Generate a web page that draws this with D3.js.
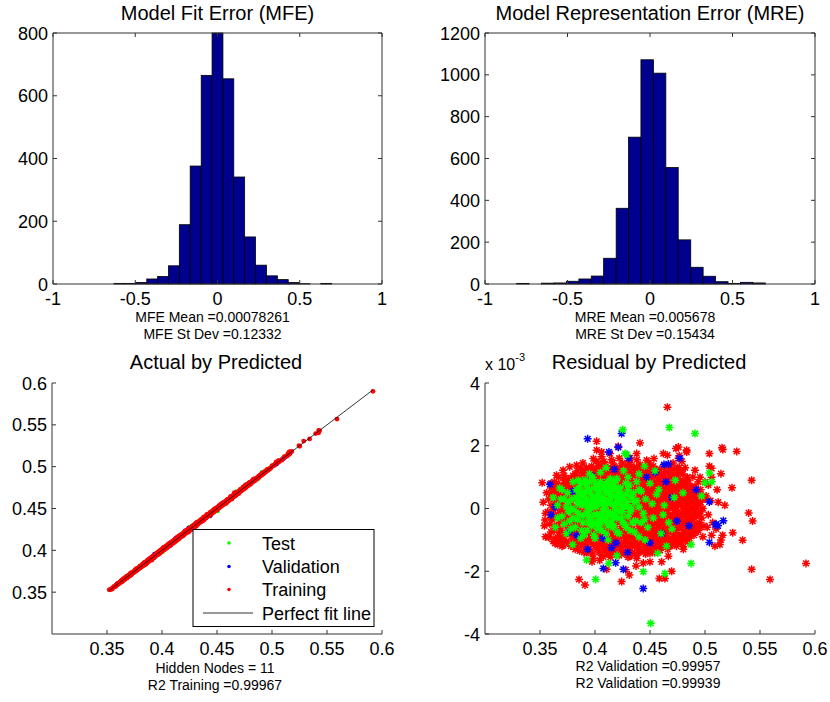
<!DOCTYPE html>
<html>
<head>
<meta charset="utf-8">
<script src="https://cdn.jsdelivr.net/npm/d3@7/dist/d3.min.js"></script>
<style>
  html, body { margin: 0; padding: 0; background: #fff; }
  svg { display: block; font-family: "Liberation Sans", Arial, Helvetica, sans-serif; }
</style>
</head>
<body>
<svg id="chart" width="830" height="702"></svg>
<script>
// ---- Histogram of model fit error (20 bins) ----
const mfeEdges = [-0.629, -0.563, -0.497, -0.430, -0.364, -0.298, -0.232, -0.166, -0.099, -0.033,
  0.033, 0.099, 0.165, 0.231, 0.298, 0.364, 0.430, 0.496, 0.562, 0.628, 0.694];
const mfeCounts = [2, 2, 5, 16, 24, 58, 189, 376, 665, 800, 654, 341, 150, 60, 26, 14, 5, 1, 0, 2];

// ---- Histogram of model representation error (20 bins) ----
const mreEdges = [-0.808, -0.733, -0.657, -0.582, -0.507, -0.431, -0.356, -0.281, -0.205, -0.130,
  -0.055, 0.021, 0.096, 0.171, 0.247, 0.322, 0.397, 0.473, 0.548, 0.623, 0.699];
const mreCounts = [3, 0, 4, 5, 13, 24, 38, 123, 362, 702, 1072, 1008, 557, 211, 80, 37, 11, 3, 8, 5];

const histXTicks = [-1, -0.5, 0, 0.5, 1];
const mfeYTicks = [0, 200, 400, 600, 800];
const mreYTicks = [0, 200, 400, 600, 800, 1000, 1200];
const predTicks = [0.35, 0.4, 0.45, 0.5, 0.55, 0.6];
const residTicks = [-4, -2, 0, 2, 4];

// ---- Training samples: [predicted, residual x 10^-3] ----
const trainPts = [
[0.352,0.82],[0.354,-0.55],[0.355,-0.15],[0.353,0.2],[0.356,0.5],[0.355,-0.9],
[0.358,-0.92],[0.359,-0.5],[0.357,-0.1],[0.358,0.3],[0.36,0.65],
[0.362,-1.05],[0.363,-0.7],[0.361,-0.35],[0.362,-0.05],[0.364,0.25],[0.362,0.55],[0.363,0.85],
[0.366,-1.15],[0.367,-0.85],[0.365,-0.55],[0.366,-0.3],[0.368,0.0],[0.366,0.3],[0.367,0.55],[0.365,0.8],[0.367,1.0],
[0.37,-1.2],[0.371,-0.95],[0.369,-0.7],[0.37,-0.4],[0.372,-0.15],[0.37,0.1],[0.371,0.4],[0.369,0.65],[0.372,0.9],
[0.374,-1.05],[0.375,-0.8],[0.373,-0.5],[0.374,-0.25],[0.376,0.05],[0.374,0.25],[0.375,0.5],[0.373,0.75],[0.376,0.95],
[0.378,-1.2],[0.379,-0.9],[0.377,-0.6],[0.378,-0.35],[0.38,-0.1],[0.378,0.15],[0.379,0.45],[0.377,0.7],[0.38,0.9],
[0.382,-1.3],[0.383,-1.0],[0.381,-0.7],[0.382,-0.45],[0.384,-0.2],[0.382,0.05],[0.383,0.3],[0.381,0.6],[0.384,0.85],[0.382,1.1],
[0.386,-1.35],[0.387,-1.05],[0.385,-0.8],[0.386,-0.5],[0.388,-0.3],[0.386,-0.05],[0.387,0.2],[0.385,0.45],[0.388,0.75],[0.386,1.0],[0.387,1.3],
[0.39,-1.4],[0.391,-1.15],[0.389,-0.85],[0.39,-0.6],[0.392,-0.35],[0.39,-0.1],[0.391,0.15],[0.389,0.4],[0.392,0.65],[0.39,0.9],[0.391,1.15],[0.389,1.45],
[0.394,-1.3],[0.395,-1.0],[0.393,-0.75],[0.394,-0.5],[0.396,-0.25],[0.394,0.0],[0.395,0.25],[0.393,0.5],[0.396,0.75],[0.394,1.0],[0.395,1.25],
[0.398,-1.45],[0.399,-1.15],[0.397,-0.9],[0.398,-0.65],[0.4,-0.4],[0.398,-0.15],[0.399,0.1],[0.397,0.35],[0.4,0.6],[0.398,0.85],[0.399,1.1],[0.397,1.35],
[0.402,-1.3],[0.403,-1.05],[0.401,-0.8],[0.402,-0.55],[0.404,-0.3],[0.402,-0.05],[0.403,0.2],[0.401,0.45],[0.404,0.7],[0.402,0.95],[0.403,1.2],[0.401,1.5],
[0.406,-1.5],[0.407,-1.2],[0.405,-0.95],[0.406,-0.7],[0.408,-0.45],[0.406,-0.2],[0.407,0.05],[0.405,0.3],[0.408,0.55],[0.406,0.8],[0.407,1.05],[0.405,1.3],[0.406,1.65],
[0.41,-1.35],[0.411,-1.1],[0.409,-0.85],[0.41,-0.6],[0.412,-0.35],[0.41,-0.1],[0.411,0.15],[0.409,0.4],[0.412,0.65],[0.41,0.9],[0.411,1.15],[0.409,1.4],
[0.414,-1.55],[0.415,-1.25],[0.413,-1.0],[0.414,-0.75],[0.416,-0.5],[0.414,-0.25],[0.415,0.0],[0.413,0.25],[0.416,0.5],[0.414,0.75],[0.415,1.0],[0.413,1.25],[0.415,1.55],
[0.418,-1.4],[0.419,-1.15],[0.417,-0.9],[0.418,-0.65],[0.42,-0.4],[0.418,-0.15],[0.419,0.1],[0.417,0.35],[0.42,0.6],[0.418,0.85],[0.419,1.1],[0.417,1.35],
[0.422,-1.5],[0.423,-1.25],[0.421,-1.0],[0.422,-0.75],[0.424,-0.5],[0.422,-0.25],[0.423,0.0],[0.421,0.25],[0.424,0.5],[0.422,0.75],[0.423,1.0],[0.421,1.25],[0.422,1.6],
[0.426,-1.35],[0.427,-1.1],[0.425,-0.85],[0.426,-0.6],[0.428,-0.35],[0.426,-0.1],[0.427,0.15],[0.425,0.4],[0.428,0.65],[0.426,0.9],[0.427,1.15],[0.425,1.45],
[0.43,-1.55],[0.431,-1.25],[0.429,-1.0],[0.43,-0.75],[0.432,-0.5],[0.43,-0.25],[0.431,0.0],[0.429,0.25],[0.432,0.5],[0.43,0.75],[0.431,1.0],[0.429,1.25],[0.431,1.5],
[0.434,-1.4],[0.435,-1.15],[0.433,-0.9],[0.434,-0.65],[0.436,-0.4],[0.434,-0.15],[0.435,0.1],[0.433,0.35],[0.436,0.6],[0.434,0.85],[0.435,1.1],[0.433,1.35],
[0.438,-1.5],[0.439,-1.25],[0.437,-1.0],[0.438,-0.75],[0.44,-0.5],[0.438,-0.25],[0.439,0.0],[0.437,0.25],[0.44,0.5],[0.438,0.75],[0.439,1.0],[0.437,1.25],[0.438,1.55],
[0.442,-1.35],[0.443,-1.1],[0.441,-0.85],[0.442,-0.6],[0.444,-0.35],[0.442,-0.1],[0.443,0.15],[0.441,0.4],[0.444,0.65],[0.442,0.9],[0.443,1.15],[0.441,1.4],
[0.446,-1.45],[0.447,-1.2],[0.445,-0.95],[0.446,-0.7],[0.448,-0.45],[0.446,-0.2],[0.447,0.05],[0.445,0.3],[0.448,0.55],[0.446,0.8],[0.447,1.05],[0.445,1.3],
[0.45,-1.3],[0.451,-1.05],[0.449,-0.8],[0.45,-0.55],[0.452,-0.3],[0.45,-0.05],[0.451,0.2],[0.449,0.45],[0.452,0.7],[0.45,0.95],[0.451,1.2],[0.449,1.45],
[0.454,-1.4],[0.455,-1.15],[0.453,-0.9],[0.454,-0.65],[0.456,-0.4],[0.454,-0.15],[0.455,0.1],[0.453,0.35],[0.456,0.6],[0.454,0.85],[0.455,1.1],[0.453,1.35],
[0.458,-1.3],[0.459,-1.05],[0.457,-0.8],[0.458,-0.55],[0.46,-0.3],[0.458,-0.05],[0.459,0.2],[0.457,0.45],[0.46,0.7],[0.458,0.95],[0.459,1.25],
[0.462,-1.2],[0.463,-0.95],[0.461,-0.7],[0.462,-0.45],[0.464,-0.2],[0.462,0.05],[0.463,0.3],[0.461,0.55],[0.464,0.8],[0.462,1.05],[0.463,1.35],
[0.466,-1.3],[0.467,-1.05],[0.465,-0.8],[0.466,-0.55],[0.468,-0.3],[0.466,-0.05],[0.467,0.2],[0.465,0.45],[0.468,0.7],[0.466,0.95],[0.467,1.2],
[0.47,-1.15],[0.471,-0.9],[0.469,-0.65],[0.47,-0.4],[0.472,-0.15],[0.47,0.1],[0.471,0.35],[0.469,0.6],[0.472,0.85],[0.47,1.1],[0.471,1.45],
[0.474,-1.2],[0.475,-0.95],[0.473,-0.7],[0.474,-0.45],[0.476,-0.2],[0.474,0.05],[0.475,0.3],[0.473,0.55],[0.476,0.8],[0.474,1.05],[0.475,1.3],[0.476,1.6],
[0.478,-1.1],[0.479,-0.85],[0.477,-0.6],[0.478,-0.35],[0.48,-0.1],[0.478,0.15],[0.479,0.4],[0.477,0.65],[0.48,0.9],[0.478,1.2],[0.479,1.5],
[0.482,-1.0],[0.483,-0.75],[0.481,-0.5],[0.482,-0.25],[0.484,0.0],[0.482,0.25],[0.483,0.5],[0.481,0.75],[0.484,1.0],[0.482,1.3],
[0.486,-0.95],[0.487,-0.7],[0.485,-0.45],[0.486,-0.2],[0.488,0.05],[0.486,0.3],[0.487,0.55],[0.485,0.8],
[0.49,-0.85],[0.491,-0.6],[0.489,-0.35],[0.49,-0.1],[0.492,0.15],[0.49,0.4],[0.491,0.7],[0.489,1.0],
[0.494,-0.7],[0.495,-0.45],[0.493,-0.2],[0.494,0.1],[0.496,0.45],[0.494,0.85],
[0.498,-0.9],[0.499,-0.55],[0.497,-0.3],[0.498,0.0],[0.5,0.3],
[0.502,-0.6],[0.503,-0.2],[0.501,0.4],[0.503,0.75],
[0.506,-0.85],[0.507,-0.45],[0.505,0.25],[0.506,1.0],[0.506,1.28],
[0.51,-0.65],[0.511,0.6],
[0.4658,3.23],[0.4015,2.14],[0.4212,1.98],[0.4409,2.09],[0.5155,1.94],[0.5162,1.88],[0.5288,1.82],[0.504,1.75],[0.4758,1.96],[0.4833,1.86],[0.4767,1.68],[0.406,1.8],
[0.5424,0.9],[0.5145,1.11],[0.5,0.85],[0.504,1.35],[0.5245,0.66],[0.512,0.2],[0.518,0.1],[0.5397,-0.14],[0.5433,-0.4],[0.5342,-1.01],[0.5252,-0.77],[0.5424,-1.94],[0.5591,-2.26],[0.5918,-1.75],[0.5135,-1.15],[0.516,-0.85],[0.5145,-1.0],[0.509,-1.2],
[0.4636,-2.23],[0.4585,-2.23],[0.45,-1.7],[0.4439,-1.74],[0.4242,-2.33],[0.4106,-1.94],[0.4136,-1.4],[0.3855,-2.26],[0.3909,-2.44],[0.3973,-1.7],[0.4043,-1.65],[0.4185,-1.1],[0.4312,-2.12],[0.4312,-1.53],[0.4606,-1.7],[0.4803,-1.3],[0.4845,-1.06],[0.3806,-1.16],[0.3683,-1.02],[0.4021,-1.0],[0.4279,-1.95],[0.4373,-1.83],[0.4667,-1.52],[0.4697,-2.0],
[0.390,1.2],[0.3985,1.59],[0.403,1.45],[0.4136,1.75],[0.4318,1.61],[0.4379,1.75],[0.447,1.54],[0.4536,1.59],[0.4621,1.75],[0.4658,1.7],[0.4736,1.91],[0.4833,1.8],[0.4767,1.3],[0.4909,1.22],[0.4955,1.0],[0.4015,1.86],
[0.365,1.06],[0.371,1.22],[0.377,1.33],[0.3833,1.38],
[0.3636,-1.11],[0.3712,-1.17],[0.3833,-1.22],[0.3924,-1.43],[0.3985,-1.59],[0.4076,-1.54],[0.4152,-1.4],[0.4318,-1.48],[0.4379,-1.59],[0.45,-1.43],[0.4591,-1.33],[0.4682,-1.17],[0.4758,-1.06],[0.4803,-1.22],[0.3576,-0.9],[0.3545,-0.37]
];

// More training samples in the dense core, listed by predicted value:
// [predicted, [residuals x 10^-3 ...]]
const trainCore = [
[0.360, [-0.75,-0.3,0.1,0.45,0.8]],
[0.364, [-0.95,-0.6,-0.2,0.15,0.45,0.7]],
[0.368, [-1.0,-0.7,-0.45,-0.15,0.2,0.45,0.75]],
[0.372, [-1.05,-0.8,-0.5,-0.3,0.0,0.25,0.55,0.75,1.05]],
[0.376, [-1.1,-0.65,-0.4,-0.1,0.35,0.6,0.85]],
[0.380, [-1.05,-0.75,-0.45,-0.25,0.05,0.3,0.55,0.8,1.05]],
[0.384, [-1.15,-0.85,-0.6,-0.35,-0.1,0.15,0.45,0.7,0.95,1.2]],
[0.388, [-1.2,-0.95,-0.65,-0.4,-0.15,0.1,0.35,0.6,0.85,1.15]],
[0.392, [-1.25,-1.0,-0.75,-0.5,-0.2,0.05,0.3,0.55,0.8,1.05,1.3]],
[0.396, [-1.35,-1.1,-0.85,-0.6,-0.35,-0.1,0.15,0.4,0.65,0.95,1.2]],
[0.400, [-1.2,-0.95,-0.7,-0.5,-0.2,0.1,0.3,0.5,0.75,1.0,1.25]],
[0.404, [-1.4,-1.15,-0.9,-0.65,-0.4,-0.15,0.1,0.35,0.6,0.85,1.1,1.35]],
[0.408, [-1.3,-1.05,-0.8,-0.55,-0.3,-0.05,0.2,0.45,0.7,0.95,1.2,1.5]],
[0.412, [-1.45,-1.2,-0.95,-0.7,-0.45,-0.2,0.05,0.3,0.55,0.8,1.05,1.3]],
[0.416, [-1.3,-1.05,-0.8,-0.55,-0.3,-0.05,0.2,0.45,0.7,0.95,1.2,1.45]],
[0.420, [-1.45,-1.2,-0.95,-0.7,-0.45,-0.2,0.05,0.3,0.55,0.8,1.05,1.3]],
[0.424, [-1.4,-1.15,-0.9,-0.65,-0.4,-0.15,0.1,0.35,0.6,0.85,1.1,1.35]],
[0.428, [-1.45,-1.2,-0.95,-0.7,-0.45,-0.2,0.05,0.3,0.55,0.8,1.05,1.35]],
[0.432, [-1.35,-1.1,-0.85,-0.6,-0.35,-0.1,0.15,0.4,0.65,0.9,1.15,1.4]],
[0.436, [-1.45,-1.2,-0.95,-0.7,-0.45,-0.2,0.05,0.3,0.55,0.8,1.05,1.3]],
[0.440, [-1.4,-1.15,-0.9,-0.65,-0.4,-0.15,0.1,0.35,0.6,0.85,1.1,1.35]],
[0.444, [-1.3,-1.05,-0.8,-0.55,-0.3,-0.05,0.2,0.45,0.7,0.95,1.25]],
[0.448, [-1.35,-1.1,-0.85,-0.6,-0.35,-0.1,0.15,0.4,0.65,0.9,1.15,1.4]],
[0.452, [-1.2,-0.95,-0.7,-0.45,-0.2,0.05,0.3,0.55,0.8,1.05,1.3]],
[0.456, [-1.25,-1.0,-0.75,-0.5,-0.25,0.0,0.25,0.5,0.75,1.0,1.2]],
[0.460, [-1.15,-0.9,-0.65,-0.4,-0.15,0.1,0.35,0.6,0.85,1.1]],
[0.464, [-1.1,-0.85,-0.6,-0.35,-0.1,0.15,0.4,0.65,0.9,1.15]],
[0.468, [-1.2,-0.95,-0.7,-0.45,-0.2,0.05,0.3,0.55,0.8,1.05,1.3]],
[0.472, [-1.05,-0.8,-0.55,-0.3,-0.05,0.2,0.45,0.7,0.95,1.25]],
[0.476, [-1.1,-0.85,-0.6,-0.35,-0.1,0.15,0.4,0.65,0.95,1.15]],
[0.480, [-0.95,-0.7,-0.45,-0.2,0.05,0.3,0.55,0.8,1.1]],
[0.484, [-0.9,-0.6,-0.35,-0.1,0.15,0.4,0.65,0.9]],
[0.488, [-0.8,-0.55,-0.3,-0.05,0.2,0.45,0.7]],
[0.492, [-0.75,-0.5,-0.25,0.0,0.3,0.55]],
[0.496, [-0.6,-0.1,0.2,0.6]]
];

// ---- Test samples ----
const testPts = [
[0.362,0.35],[0.364,-0.6],[0.366,0.1],[0.368,0.65],[0.37,-0.25],[0.372,0.3],[0.374,-0.8],[0.375,0.5],[0.377,-0.4],[0.378,0.0],[0.38,0.85],[0.382,-0.6],[0.383,0.35],[0.385,-0.15],[0.386,0.65],[0.387,-0.95],[0.388,0.1],[0.389,-0.45],[0.39,0.45],[0.391,0.9],[0.392,-0.15],[0.393,-0.7],[0.394,0.25],[0.395,0.6],[0.396,-0.35],[0.397,0.05],[0.398,1.0],[0.399,-0.85],[0.4,0.4],[0.401,-0.5],[0.402,0.15],[0.403,0.75],[0.404,-0.2],[0.405,1.15],[0.406,-0.7],[0.407,0.3],[0.408,0.0],[0.409,0.55],[0.41,-0.4],[0.411,0.85],[0.412,-1.0],[0.413,0.2],[0.414,-0.15],[0.415,0.6],[0.416,0.4],[0.417,-0.55],[0.418,0.05],[0.419,0.9],[0.42,-0.3],[0.421,0.35],[0.422,-0.8],[0.423,0.65],[0.424,0.1],[0.425,-0.1],[0.426,1.2],[0.427,-0.5],[0.428,0.45],[0.429,0.2],[0.43,-0.25],[0.431,0.75],[0.432,-0.7],[0.433,0.0],[0.435,0.5],[0.437,-0.4],[0.438,0.25],[0.44,-0.9],[0.442,0.55],[0.444,-0.15],[0.446,0.3],[0.448,-0.6],[0.45,0.8],[0.453,-0.3],[0.456,0.45],[0.46,-0.8],[0.463,0.1],[0.467,-0.45],[0.472,0.35],
[0.392,0.3],[0.396,0.45],[0.4,0.2],[0.404,0.55],[0.408,0.35],[0.412,0.5],[0.416,0.15],[0.42,0.6],[0.395,-0.05],[0.399,-0.2],[0.403,-0.35],[0.407,-0.1],[0.411,-0.25],[0.415,-0.4],[0.419,-0.05],[0.423,0.3],[0.402,0.65],[0.41,0.75],[0.418,0.4],[0.388,0.4],[0.384,0.15],[0.38,-0.3],[0.376,0.2],
[0.386,0.25],[0.387,0.8],[0.389,-0.25],[0.391,0.55],[0.393,0.05],[0.394,-0.45],[0.395,0.85],[0.397,-0.55],[0.398,0.3],[0.399,0.65],[0.401,0.05],[0.402,-0.2],[0.403,0.45],[0.405,-0.5],[0.405,0.85],[0.406,0.15],[0.408,-0.3],[0.409,0.25],[0.41,0.6],[0.412,-0.1],[0.413,0.7],[0.414,0.35],[0.416,-0.6],[0.417,0.8],[0.418,-0.25],[0.42,0.2],[0.421,0.65],[0.422,-0.1],[0.424,0.45],[0.425,-0.45],[0.426,0.3],[0.428,0.8],[0.43,0.05],[0.432,0.4],[0.434,-0.45],[0.436,0.2],[0.379,0.3],[0.381,-0.05],[0.383,0.6],[0.378,-0.65],[0.372,-0.5],[0.369,0.3],[0.374,0.05],
[0.384,-0.35],[0.386,0.5],[0.388,-0.7],[0.39,0.2],[0.392,0.75],[0.394,-0.25],[0.396,0.15],[0.398,-0.45],[0.4,0.85],[0.402,-0.65],[0.404,0.3],[0.406,-0.35],[0.408,0.7],[0.41,0.1],[0.412,-0.55],[0.414,0.95],[0.416,-0.2],[0.418,0.65],[0.42,-0.75],[0.422,0.45],[0.424,-0.3],[0.426,0.05],[0.428,-0.6],[0.43,0.6],[0.432,-0.1],[0.434,0.3],[0.436,-0.75],[0.438,0.85],[0.44,0.05],[0.442,-0.45],[0.39,-0.85],[0.4,-0.95],[0.41,-0.8],[0.42,0.95],[0.43,1.0],[0.395,1.1],[0.385,0.9],[0.37,0.6],[0.366,-0.3],[0.376,-0.1],[0.44,0.6],[0.445,-0.35],[0.452,0.15],[0.458,0.6],[0.462,-0.2],[0.47,-0.65],
[0.4676,2.58],[0.4909,2.39],[0.4252,2.51],[0.4288,1.72],[0.4273,1.75],[0.504,1.13],[0.5062,0.85],[0.5,0.82],[0.4873,-1.15],[0.4873,-1.75],[0.4636,-2.07],[0.4506,-3.66],[0.4439,-2.01],[0.4006,-2.26],[0.3924,-1.64],[0.4124,-1.75],[0.457,-1.43],[0.3797,-1.15],[0.42,-1.5],[0.4455,-1.0],[0.465,-1.2],[0.497,0.4],[0.4545,1.2],[0.473,0.9],[0.445,1.35],[0.44,1.1],[0.41,1.3],[0.48,0.5]
];

// ---- Validation samples ----
const valPts = [
[0.4242,2.39],[0.3933,2.22],[0.4212,1.95],[0.4307,1.6],[0.4127,1.8],[0.4627,1.4],[0.4667,1.42],[0.4548,1.15],[0.447,1.0],[0.3591,0.77],[0.3638,0.05],[0.5167,-0.39],[0.5103,-0.5],[0.5118,-0.55],[0.5094,-0.52],[0.504,-1.08],[0.5039,0.21],[0.4439,-2.55],[0.4258,-1.94],[0.4076,-1.91],[0.4188,-1.73],[0.4191,-1.1],[0.3933,-1.3],[0.3833,-0.86],[0.3764,-0.75],[0.4297,-1.4],[0.4606,-0.8],[0.4745,-0.4],[0.477,1.6],[0.4645,0.85],[0.47,0.35],[0.4073,-0.95],[0.45,-1.1],[0.415,-1.25],[0.36,-0.2],[0.38,0.55],[0.4855,-0.55],[0.397,1.05],[0.4176,1.25],[0.492,0.6]
];

const seriesColors = { test: "#00ff00", val: "#0000ff", train: "#ff0000" };
const legendItems = ["Test", "Validation", "Training", "Perfect fit line"];

// all training samples as [predicted, residual] pairs
const trainAll = trainPts.concat(trainCore.flatMap(([p, rs]) => rs.map(r => [p, r])));

// ---------------------------------------------------------------
const svg = d3.select("#chart");
const axisColor = "#333";
const tickLen = 4;
const tickFont = 18;

function drawAxes(g, x, y, xTicks, yTicks, fmtX, fmtY, boxed) {
  const [x0, x1] = x.range();
  const [y0, y1] = y.range(); // y0 bottom, y1 top
  xTicks.forEach(t => {
    const px = x(t);
    g.append("line").attr("x1", px).attr("x2", px).attr("y1", y0).attr("y2", y0 - tickLen)
      .attr("stroke", axisColor);
    if (boxed) g.append("line").attr("x1", px).attr("x2", px).attr("y1", y1).attr("y2", y1 + tickLen)
      .attr("stroke", axisColor);
    g.append("text").attr("x", px).attr("y", y0 + 21).attr("text-anchor", "middle")
      .attr("font-size", tickFont).text(fmtX(t));
  });
  yTicks.forEach(t => {
    const py = y(t);
    g.append("line").attr("x1", x0).attr("x2", x0 + tickLen).attr("y1", py).attr("y2", py)
      .attr("stroke", axisColor);
    if (boxed) g.append("line").attr("x1", x1).attr("x2", x1 - tickLen).attr("y1", py).attr("y2", py)
      .attr("stroke", axisColor);
    g.append("text").attr("x", x0 - 5).attr("y", py + 6.5).attr("text-anchor", "end")
      .attr("font-size", tickFont).text(fmtY(t));
  });
  g.append("line").attr("x1", x0).attr("x2", x1).attr("y1", y0).attr("y2", y0).attr("stroke", axisColor);
  g.append("line").attr("x1", x0).attr("x2", x0).attr("y1", y0).attr("y2", y1).attr("stroke", axisColor);
  if (boxed) {
    g.append("line").attr("x1", x0).attr("x2", x1).attr("y1", y1).attr("y2", y1).attr("stroke", axisColor);
    g.append("line").attr("x1", x1).attr("x2", x1).attr("y1", y0).attr("y2", y1).attr("stroke", axisColor);
  }
}

function title(g, cx, y, txt) {
  g.append("text").attr("x", cx).attr("y", y).attr("text-anchor", "middle")
    .attr("font-size", 20).text(txt);
}
function note(g, cx, y, txt) {
  g.append("text").attr("x", cx).attr("y", y).attr("text-anchor", "middle")
    .attr("font-size", 14).text(txt);
}

const fmtNum = d => String(d);

function histogram(edges, counts, xRange, yMax, yTicks, ttl, lines) {
  const g = svg.append("g");
  const x = d3.scaleLinear().domain([-1, 1]).range(xRange);
  const y = d3.scaleLinear().domain([0, yMax]).range([284, 33]);
  g.selectAll("rect.bar").data(counts).join("rect")
    .attr("class", "bar")
    .attr("x", (d, i) => x(edges[i]))
    .attr("width", (d, i) => x(edges[i + 1]) - x(edges[i]))
    .attr("y", d => y(d))
    .attr("height", d => y(0) - y(d))
    .attr("fill", "#00008f")
    .attr("stroke", "#000")
    .attr("stroke-width", 0.8);
  drawAxes(g, x, y, histXTicks, yTicks, fmtNum, fmtNum, true);
  const cx = (xRange[0] + xRange[1]) / 2;
  title(g, cx, 20, ttl);
  note(g, cx - 5, 322, lines[0]);
  note(g, cx - 5, 339, lines[1]);
}

histogram(mfeEdges, mfeCounts, [53, 382], 800, mfeYTicks, "Model Fit Error (MFE)",
  ["MFE Mean =0.00078261", "MFE St Dev =0.12332"]);
histogram(mreEdges, mreCounts, [485, 815], 1200, mreYTicks, "Model Representation Error (MRE)",
  ["MRE Mean =0.005678", "MRE St Dev =0.15434"]);

// ---- Actual by Predicted ----
{
  const g = svg.append("g");
  const x = d3.scaleLinear().domain([0.3, 0.6]).range([52, 382]);
  const y = d3.scaleLinear().domain([0.3, 0.6]).range([634, 383]);
  const actual = d => d[0] + d[1] / 1000;
  const groups = [[testPts, seriesColors.test], [valPts, seriesColors.val], [trainAll, seriesColors.train]];
  groups.forEach(([pts, col]) => {
    g.append("g").selectAll("circle").data(pts).join("circle")
      .attr("cx", d => x(d[0])).attr("cy", d => y(actual(d)))
      .attr("r", 2.4).attr("fill", col);
  });
  const all = trainAll.concat(testPts, valPts);
  const ext = d3.extent(all, d => d[0]);
  g.append("line").attr("x1", x(ext[0])).attr("y1", y(ext[0]))
    .attr("x2", x(ext[1])).attr("y2", y(ext[1]))
    .attr("stroke", "#000").attr("stroke-width", 0.8);
  drawAxes(g, x, y, predTicks, predTicks, fmtNum, fmtNum, false);
  title(g, 216, 369, "Actual by Predicted");
  note(g, 215, 673, "Hidden Nodes = 11");
  note(g, 215, 690, "R2 Training =0.99967");

  // legend
  const lg = g.append("g");
  lg.append("rect").attr("x", 193).attr("y", 529.5).attr("width", 181).attr("height", 97)
    .attr("fill", "#fff").attr("stroke", "#000").attr("stroke-width", 1);
  const rowsY = [543, 566.5, 589.5, 613];
  const cols = [seriesColors.test, seriesColors.val, seriesColors.train];
  legendItems.forEach((name, i) => {
    if (i < 3) {
      lg.append("circle").attr("cx", 229).attr("cy", rowsY[i]).attr("r", 1.8).attr("fill", cols[i]);
    } else {
      lg.append("line").attr("x1", 203).attr("x2", 253).attr("y1", rowsY[i]).attr("y2", rowsY[i])
        .attr("stroke", "#000").attr("stroke-width", 0.8);
    }
    lg.append("text").attr("x", 262).attr("y", rowsY[i] + 6.5).attr("font-size", tickFont).text(name);
  });
}

// ---- Residual by Predicted ----
{
  const g = svg.append("g");
  const x = d3.scaleLinear().domain([0.3, 0.6]).range([485, 815]);
  const y = d3.scaleLinear().domain([-4, 4]).range([634, 383]);
  const star = "M-4,0L4,0M0,-4L0,4M-2.9,-2.9L2.9,2.9M-2.9,2.9L2.9,-2.9";
  const groups = [[trainAll, seriesColors.train], [valPts, seriesColors.val], [testPts, seriesColors.test]];
  groups.forEach(([pts, col]) => {
    g.append("g").selectAll("path").data(pts).join("path")
      .attr("transform", d => `translate(${x(d[0])},${y(d[1])})`)
      .attr("d", star).attr("fill", "none").attr("stroke", col).attr("stroke-width", 1.5);
  });
  drawAxes(g, x, y, predTicks, residTicks, fmtNum, fmtNum, false);
  g.append("text").attr("x", 485).attr("y", 370).attr("font-size", 16)
    .text("x 10").append("tspan").attr("dy", -9).attr("font-size", 11).text("-3");
  title(g, 649, 369, "Residual by Predicted");
  note(g, 648, 671, "R2 Validation =0.99957");
  note(g, 648, 688, "R2 Validation =0.99939");
}
</script>
</body>
</html>
